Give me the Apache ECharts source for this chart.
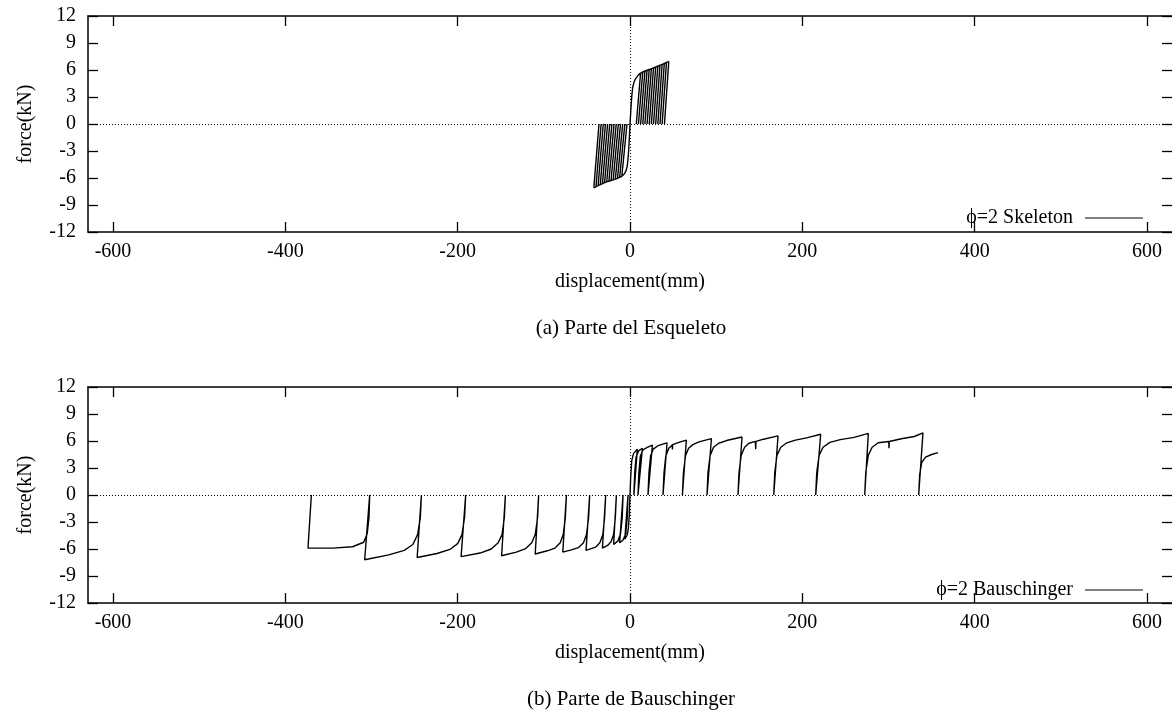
<!DOCTYPE html>
<html>
<head>
<meta charset="utf-8">
<title>fuerza - desplazamiento</title>
<script src="https://cdn.jsdelivr.net/npm/echarts@6/dist/echarts.min.js"></script>
<style>
html,body{margin:0;padding:0;background:#fff;}
#main{width:1172px;height:715px;}
</style>
</head>
<body>
<div id="main"></div>
<script>
// marcas del eje x (mm)
var xTicks = [-600, -400, -200, 0, 200, 400, 600];

// (a) esqueleto: envolventes [x, fuerza]
var skelPosEnv = [[0,0],[1,1.6],[2,3.0],[3,4.0],[4.5,4.6],[6,4.95],[8.5,5.3],[11.5,5.6],[16,5.85],[23,6.08],[30,6.35],[38,6.65],[45,6.95]];
var skelNegEnv = [[0,0],[-0.8,-1.6],[-1.6,-3.0],[-2.4,-4.0],[-3.3,-4.7],[-4.5,-5.15],[-6.2,-5.5],[-10,-5.85],[-16,-6.1],[-22,-6.28],[-28,-6.45],[-35,-6.75],[-42,-7.1]];
// descargas: [x con fuerza 0, x en la envolvente, fuerza]
var skelPosCycles = [[7.3,12.3,5.66],[9.8,14.8,5.78],[12.3,17.3,5.88],[14.8,19.8,5.98],[17.3,22.3,6.06],[19.8,24.8,6.14],[22.3,27.3,6.24],[24.8,29.8,6.34],[27.3,32.3,6.44],[29.8,34.8,6.52],[32.3,37.3,6.62],[34.8,39.8,6.72],[37.3,42.3,6.82],[40,45,6.95]];
var skelNegCycles = [[-3.5,-9.5,-5.8],[-6,-12,-5.93],[-8.5,-14.5,-6.04],[-11,-17,-6.13],[-13.5,-19.5,-6.2],[-16,-22,-6.28],[-18.5,-24.5,-6.36],[-21,-27,-6.42],[-23.5,-29.5,-6.5],[-26,-32,-6.62],[-28.5,-34.5,-6.72],[-31,-37,-6.85],[-33.5,-39.5,-6.97],[-36,-42,-7.1]];

// (b) Bauschinger: recorrido de los ciclos [x, fuerza]
var bauschPos = [
    [0,0],[0.8,2.0],[2,3.8],[4,4.6],[8.5,5.1],
    [4.5,0],[5.5,2.5],[7,4.2],[10,4.9],[14.4,5.2],
    [9.3,0],[10.3,2.5],[12,4.3],[15,5.0],[20,5.3],[26,5.55],
    [20.9,0],[22,2.5],[24,4.4],[27,5.1],[32,5.45],[38,5.65],[43,5.8],
    [38.3,0],[39.5,2.5],[41.5,4.3],[45,5.2],[49,5.55],[49.2,5.05],[49.5,5.6],[55,5.8],[65.4,6.1],
    [60.8,0],[62,2.5],[64.5,4.4],[68,5.2],[73,5.6],[80,5.9],[94.5,6.27],
    [89.4,0],[90.5,2.5],[93,4.4],[97,5.3],[103,5.75],[112,6.05],[130,6.45],
    [125.3,0],[126.5,2.5],[129,4.4],[133,5.3],[138,5.75],[145.5,5.95],[145.9,5.1],[146.2,5.95],[155,6.2],[171.8,6.57],
    [166.8,0],[168,2.5],[170.5,4.4],[175,5.3],[182,5.8],[192,6.1],[205,6.35],[221.3,6.75],
    [215.5,0],[216.7,2.5],[219.5,4.4],[224,5.3],[232,5.85],[244,6.15],[260,6.4],[276.6,6.85],
    [272.4,0],[273.6,2.5],[276.5,4.4],[281,5.3],[288,5.8],[300.3,5.95],[300.6,5.2],[300.9,5.95],[315,6.25],[330,6.5],[340,6.9],
    [335,0],[336.2,2.3],[338.5,3.6],[343,4.2],[350,4.5],[357.4,4.7]
];
var bauschNeg = [
    [0,0],[-0.8,-2.2],[-2,-3.8],[-3.5,-4.5],[-6,-4.9],
    [-2.3,0],[-3.2,-2.5],[-5,-4.3],[-8,-5.0],[-12,-5.3],
    [-8.1,0],[-9,-2.5],[-11,-4.3],[-14,-5.1],[-19,-5.5],
    [-15.8,0],[-17,-2.5],[-19,-4.4],[-22,-5.2],[-26,-5.6],[-32,-5.9],
    [-28.2,0],[-29.5,-2.5],[-31.5,-4.4],[-35,-5.3],[-40,-5.8],[-51,-6.15],
    [-46.8,0],[-48,-2.5],[-50.5,-4.4],[-54,-5.3],[-60,-5.85],[-68,-6.1],[-78,-6.35],
    [-73.8,0],[-75,-2.5],[-77.5,-4.4],[-81,-5.3],[-87,-5.9],[-96,-6.2],[-110,-6.55],
    [-106,0],[-107.2,-2.5],[-110,-4.4],[-114,-5.3],[-121,-5.95],[-132,-6.35],[-149,-6.75],
    [-144.6,0],[-145.8,-2.5],[-148.5,-4.4],[-153,-5.3],[-161,-6.0],[-174,-6.45],[-196,-6.85],
    [-190.7,0],[-192,-2.5],[-195,-4.4],[-200,-5.4],[-209,-6.05],[-224,-6.5],[-247,-6.95],
    [-242.1,0],[-243.3,-2.5],[-246.5,-4.4],[-252,-5.5],[-262,-6.15],[-280,-6.65],[-307.9,-7.2],
    [-302.1,0],[-302.9,-2.5],[-305,-4.3],[-309,-5.25],[-322,-5.75],[-345,-5.9],[-373.7,-5.9],
    [-369.8,0]
];

var GAP = ['-', '-'];
var FONT = 'Liberation Serif';

// arma los datos del esqueleto, separando cada tramo
function skeletonData() {
    var d = [];
    d = d.concat(skelPosEnv, [GAP], skelNegEnv, [GAP]);
    skelPosCycles.concat(skelNegCycles).forEach(function (c) {
        d.push([c[0], 0], [c[1], c[2]], GAP);
    });
    return d;
}

function xAxisCfg(grid, pos, name) {
    return {
        type: 'value', gridIndex: grid, position: pos, min: -629, max: 629,
        name: name, nameLocation: 'middle', nameGap: 40,
        nameTextStyle: {fontFamily: FONT, fontSize: 20, color: '#000'},
        splitLine: {show: false},
        axisLine: {show: true, onZero: false, lineStyle: {color: '#000', width: 1.5}},
        axisTick: {show: true, inside: true, length: 10, customValues: xTicks, lineStyle: {color: '#000', width: 1.3}},
        axisLabel: {show: pos === 'bottom', customValues: xTicks, margin: 10, fontFamily: FONT, fontSize: 20, color: '#000'}
    };
}
function yAxisCfg(grid, pos, name) {
    // el borde derecho queda fuera de la imagen, sólo se ven las marcas
    return {
        type: 'value', gridIndex: grid, position: pos, min: -12, max: 12, interval: 3,
        name: name, nameLocation: 'middle', nameGap: 52,
        nameTextStyle: {fontFamily: FONT, fontSize: 20, color: '#000'},
        splitLine: {show: false},
        axisLine: {show: pos === 'left', onZero: false, lineStyle: {color: '#000', width: 1.5}},
        axisTick: {show: true, inside: true, length: 10, lineStyle: {color: '#000', width: 1.3}},
        axisLabel: {show: pos === 'left', margin: 12, fontFamily: FONT, fontSize: 20, color: '#000'}
    };
}
function legendCfg(name, top) {
    return {
        data: [name], right: 24, top: top, align: 'right', icon: 'rect',
        itemWidth: 58, itemHeight: 1, itemStyle: {color: '#000'},
        textStyle: {fontFamily: FONT, fontSize: 20, color: '#000', padding: [0, 7, 0, 0]}
    };
}
var zeroLines = {
    silent: true, symbol: 'none', label: {show: false}, animation: false,
    lineStyle: {type: [1, 2], color: '#000', width: 1},
    data: [{yAxis: 0}, {xAxis: 0}]
};

var myChart = echarts.init(document.getElementById('main'));
var option = {
    backgroundColor: '#fff',
    animation: false,
    grid: [
        {left: 88, top: 16, right: 0, height: 216},
        {left: 88, top: 387, right: 0, height: 216}
    ],
    xAxis: [
        xAxisCfg(0, 'bottom', 'displacement(mm)'), xAxisCfg(0, 'top', ''),
        xAxisCfg(1, 'bottom', 'displacement(mm)'), xAxisCfg(1, 'top', '')
    ],
    yAxis: [
        yAxisCfg(0, 'left', 'force(kN)'), yAxisCfg(0, 'right', ''),
        yAxisCfg(1, 'left', 'force(kN)'), yAxisCfg(1, 'right', '')
    ],
    legend: [legendCfg('ϕ=2 Skeleton', 203), legendCfg('ϕ=2 Bauschinger', 575)],
    series: [
        {
            name: 'ϕ=2 Skeleton', type: 'line', xAxisIndex: 0, yAxisIndex: 0,
            data: skeletonData(), symbol: 'none', connectNulls: false,
            itemStyle: {color: '#000'}, lineStyle: {color: '#000', width: 1.4},
            markLine: zeroLines
        },
        {
            name: 'ϕ=2 Bauschinger', type: 'line', xAxisIndex: 2, yAxisIndex: 2,
            data: bauschPos.concat([GAP], bauschNeg), symbol: 'none', connectNulls: false,
            itemStyle: {color: '#000'}, lineStyle: {color: '#000', width: 1.4},
            markLine: zeroLines
        }
    ],
    graphic: [
        {type: 'text', x: 631, y: 328, style: {text: '(a) Parte del Esqueleto', align: 'center', verticalAlign: 'middle', fontFamily: FONT, fontSize: 21, fill: '#000'}},
        {type: 'text', x: 631, y: 699, style: {text: '(b) Parte de Bauschinger', align: 'center', verticalAlign: 'middle', fontFamily: FONT, fontSize: 21, fill: '#000'}}
    ]
};
myChart.setOption(option);
</script>
</body>
</html>
